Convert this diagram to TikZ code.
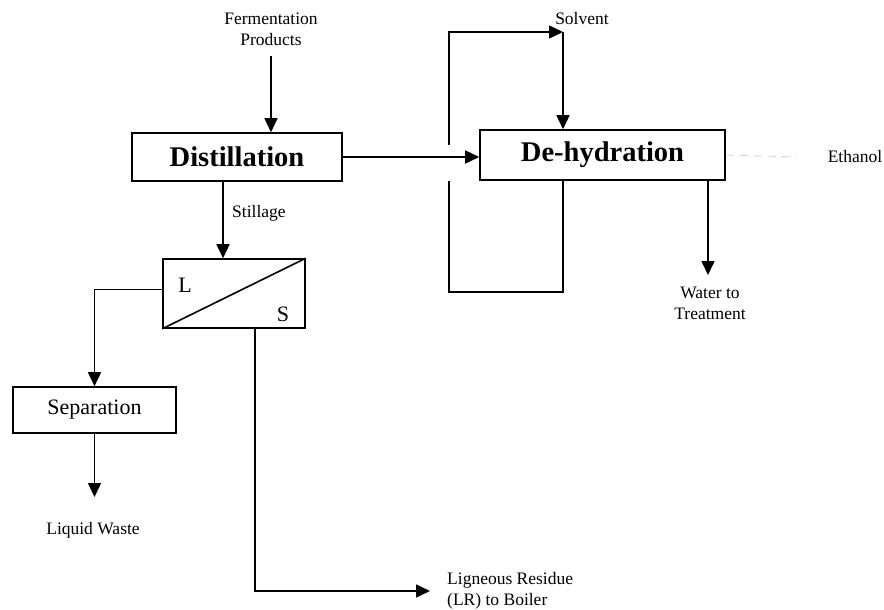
\documentclass[tikz,border=0pt]{standalone}
\usepackage{fontspec}
\setmainfont{Liberation Serif}
\usetikzlibrary{arrows.meta,calc}

\begin{document}
\begin{tikzpicture}[x=1pt,y=-1pt,
    box/.style={draw,line width=1.6pt,inner sep=0pt},
    flow/.style={line width=1.6pt,-{Triangle[length=14pt,width=13pt]}},
    lbl/.style={font=\fontsize{17.5}{21}\selectfont,align=center,inner sep=0pt}]
    \useasboundingbox (0,0) rectangle (884,610);
    % units
    \node[box,minimum width=210pt,minimum height=48pt,font=\fontsize{28.5}{32}\selectfont\bfseries] (D) at (237,157) {Distillation};
    \node[box,minimum width=245pt,minimum height=50pt,font=\fontsize{28.5}{32}\selectfont\bfseries] (DH) at (602.5,155) {De-hydration};
    \node[box,minimum width=142pt,minimum height=69pt] (LS) at (234,293.5) {};
    \node[box,minimum width=163pt,minimum height=46pt,font=\fontsize{22}{26}\selectfont] (Sep) at (94.5,410) {Separation};
    \draw[line width=1.6pt] (LS.south west) -- (LS.north east);
    \node[font=\fontsize{22}{26}\selectfont] (L) at (185,285) {L};
    \node[font=\fontsize{22}{26}\selectfont] (S) at (283,314) {S};
    % streams
    \node[lbl] (FP) at (271,29) {Fermentation\\Products};
    \node[lbl,anchor=west] (St) at (232,213) {Stillage};
    \node[lbl] (LW) at (93,530) {Liquid Waste};
    \node[lbl,anchor=west,align=left] (LR) at (447,591) {Ligneous Residue\\(LR) to Boiler};
    \node[lbl] (Sv) at (582,19) {Solvent};
    \node[lbl] (W) at (710,303) {Water to\\Treatment};
    \node[lbl] (E) at (855,157) {Ethanol};
    \coordinate (sv) at (563,32);
    \draw[flow] ([yshift=-10pt]FP.south) -- (FP.south |- D.north);
    \draw[flow] (223,0 |- D.south) -- (223,0 |- LS.north);
    \draw[flow] ($(LS.west)+(0,-4)$) -| (Sep.north);
    \draw[flow] (Sep.south) -- (Sep.south |- 0,497);
    \draw[flow] ($(LS.south)+(21,0)$) |- ([xshift=-17pt]LR.west);
    \draw[flow] (D.east) -- (D.east -| DH.west);
    \draw[flow] (449,145) |- (sv);
    \draw[flow] (sv) -- (sv |- DH.north);
    \draw[line width=1.6pt] (449,0 |- DH.south) -- (449,292) -| (sv |- DH.south);
    \draw[flow] (708,0 |- DH.south) -- (708,275);
    \draw[gray!35,thick,dash pattern=on 8pt off 6pt] (DH.east) -- ([xshift=-30pt]E.west);
\end{tikzpicture}
\end{document}
